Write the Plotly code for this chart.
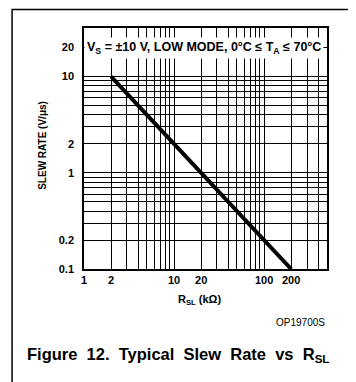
import plotly.graph_objects as go

# Slew rate vs R_SL (log-log straight line)
r_sl = [2, 200]
slew_rate = [10, 0.1]

# grid positions and tick labels
x_grid = [1, 2, 3, 4, 5, 6, 7, 8, 9, 10, 20, 30, 40, 50, 60, 70, 80, 90, 100, 200, 300, 400]
x_labels = ['1', '2', '', '', '', '', '', '', '', '10', '20', '', '', '', '', '', '', '', '100', '200', '', '']
y_grid = [0.1, 0.2, 0.3, 0.4, 0.5, 0.6, 0.7, 0.8, 0.9, 1, 2, 3, 4, 5, 6, 7, 8, 9, 10, 20]
y_labels = ['0.1', '0.2', '', '', '', '', '', '', '', '1', '2', '', '', '', '', '', '', '', '10', '20']

FONT = 'Liberation Sans, Arial, sans-serif'

fig = go.Figure()
fig.add_trace(go.Scatter(x=r_sl, y=slew_rate, mode='lines',
                         line=dict(color='black', width=4), showlegend=False))

axis_style = dict(type='log', showline=True, mirror=True, linecolor='black', linewidth=1.5,
                  showgrid=True, gridcolor='black', gridwidth=1, zeroline=False, ticks='',
                  tickfont=dict(family=FONT, size=11, color='black', weight='bold'))

fig.update_xaxes(range=[0, 2.699], tickmode='array', tickvals=x_grid, ticktext=x_labels,
                 ticklabelstandoff=0, **axis_style)
fig.update_yaxes(range=[-1, 1.505], tickmode='array', tickvals=y_grid, ticktext=y_labels,
                 ticklabelstandoff=6, **axis_style)

# the page adds an 8px body margin, so the figure is 8px smaller than the window
fig.update_layout(
    width=348, height=374,
    margin=dict(l=76, r=29, t=20, b=113),
    plot_bgcolor='white', paper_bgcolor='white',
    font=dict(family=FONT, color='black'),
    annotations=[
        dict(text='V<sub>S</sub> = ±10 V, LOW MODE, 0°C ≤ T<sub>A</sub> ≤ 70°C',
             xref='paper', yref='paper', x=0.494, y=0.917, xanchor='center', yanchor='middle',
             showarrow=False, bgcolor='white', borderpad=2,
             font=dict(size=12.5, weight='bold')),
        dict(text='SLEW RATE (V/μs)', xref='paper', yref='paper', x=-0.169, y=0.515,
             xanchor='center', yanchor='middle',
             textangle=-90, showarrow=False, font=dict(size=10, weight='bold')),
        dict(text='R<sub>SL</sub> (kΩ)', xref='paper', yref='paper', x=0.477, y=-0.129,
             xanchor='center', yanchor='middle',
             showarrow=False, font=dict(size=11, weight='bold')),
        dict(text='OP19700S', xref='paper', yref='paper', x=0.893, y=-0.22,
             xanchor='center', yanchor='middle',
             showarrow=False, font=dict(family='Liberation Sans Narrow, ' + FONT, size=10)),
        dict(text='Figure  12.  Typical  Slew  Rate  vs  R<sub>SL</sub>', xref='paper', yref='paper',
             x=0.387, y=-0.357, xanchor='center', yanchor='middle',
             showarrow=False, font=dict(size=16.5, weight='bold')),
    ],
    shapes=[dict(type='rect', xref='paper', yref='paper', x0=-0.296, x1=1.095, y0=-0.6, y1=1.077,
                 line=dict(color='black', width=1.5))],
)

fig.write_html("out.html")
